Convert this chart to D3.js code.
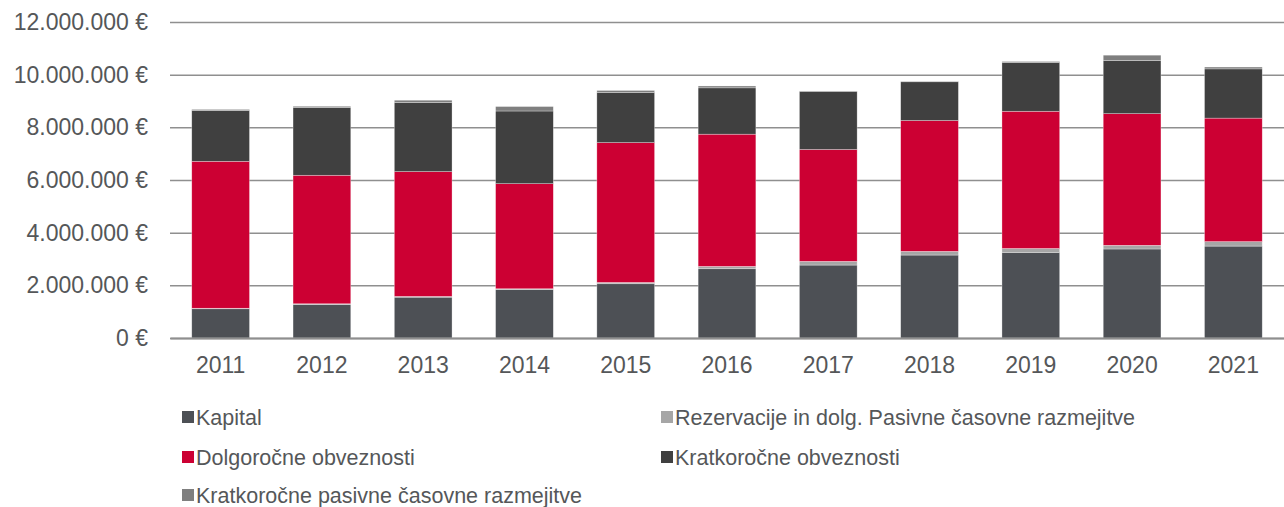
<!DOCTYPE html>
<html>
<head>
<meta charset="utf-8">
<script src="https://cdn.jsdelivr.net/npm/d3@7"></script>
<style>
  body { margin: 0; background: #fff; }
  text { font-family: "Liberation Sans", Arial, sans-serif; fill: #555759; }
</style>
</head>
<body>
<div id="chart"></div>
<script>
// Chart data (values in EUR)
var years = ['2011', '2012', '2013', '2014', '2015', '2016', '2017', '2018', '2019', '2020', '2021'];
var kapital = [1110000, 1270000, 1550000, 1840000, 2060000, 2630000, 2770000, 3150000, 3250000, 3380000, 3490000];
var rezervacije = [20000, 30000, 30000, 30000, 50000, 90000, 140000, 140000, 150000, 140000, 170000];
var dolgorocne = [5580000, 4880000, 4740000, 3990000, 5310000, 5020000, 4250000, 4970000, 5210000, 5000000, 4690000];
var kratkorocne = [1930000, 2570000, 2620000, 2760000, 1900000, 1760000, 2200000, 1470000, 1850000, 2020000, 1870000];
var kratPasivne = [40000, 50000, 90000, 170000, 80000, 70000, 20000, 20000, 40000, 200000, 70000];
var yTicks = [0, 2000000, 4000000, 6000000, 8000000, 10000000, 12000000];

var seriesNames = ['Kapital', 'Rezervacije in dolg. Pasivne časovne razmejitve', 'Dolgoročne obveznosti',
  'Kratkoročne obveznosti', 'Kratkoročne pasivne časovne razmejitve'];
var seriesKeys = ['kap', 'rez', 'dolg', 'krat', 'kpcr'];
var colors = ['#4d5055', '#a6a6a6', '#cc0033', '#404040', '#7f7f7f'];

var svgWidth = 1284;
var svgHeight = 507;
var margin = { top: 22, right: 0, bottom: 169, left: 170 };
var chartWidth = svgWidth - margin.left - margin.right;
var chartHeight = 338 - margin.top;

// build rows for the stack
var rows = years.map((y, i) => ({
  year: y, kap: kapital[i], rez: rezervacije[i], dolg: dolgorocne[i], krat: kratkorocne[i], kpcr: kratPasivne[i]
}));
var stacked = d3.stack().keys(seriesKeys)(rows);

var svg = d3.select('#chart').append('svg')
  .attr('width', svgWidth)
  .attr('height', svgHeight);

var chartGroup = svg.append('g')
  .attr('transform', `translate(${margin.left}, ${margin.top})`);

var xScale = d3.scaleBand()
  .domain(years)
  .range([0, chartWidth])
  .paddingInner(0.43)
  .paddingOuter(0.215);

var yScale = d3.scaleLinear()
  .domain([0, 12000000])
  .range([chartHeight, 0]);

var fmt = d3.formatLocale({ decimal: ',', thousands: '.', grouping: [3], currency: ['', ' €'] }).format(',.0f');

// gridlines + y labels
var yAxis = chartGroup.append('g')
  .call(d3.axisLeft(yScale).tickValues(yTicks).tickSize(-chartWidth).tickPadding(22)
    .tickFormat(d => fmt(d) + ' €'));
yAxis.select('.domain').remove();
yAxis.selectAll('line').attr('stroke', '#8f8f8f').attr('stroke-width', 1.5);
yAxis.selectAll('text').style('font-size', '23px').attr('fill', '#555759');

// bars
chartGroup.append('g').selectAll('g')
  .data(stacked)
  .enter()
  .append('g')
  .attr('fill', (d, i) => colors[i])
  .selectAll('rect')
  .data(d => d)
  .enter()
  .append('rect')
  .attr('x', d => xScale(d.data.year))
  .attr('y', d => yScale(d[1]))
  .attr('width', xScale.bandwidth())
  .attr('height', d => yScale(d[0]) - yScale(d[1]))
  .attr('stroke', '#ffffff')
  .attr('stroke-opacity', 0.5)
  .attr('stroke-width', 0.6);

// baseline + x labels
var xAxis = chartGroup.append('g')
  .attr('transform', `translate(0, ${chartHeight})`)
  .call(d3.axisBottom(xScale).tickSize(0).tickPadding(19));
xAxis.select('.domain').attr('stroke', '#8f8f8f').attr('stroke-width', 2);
xAxis.selectAll('text').style('font-size', '23px').attr('fill', '#555759');

// legend (two columns)
var legendPos = [[182, 417], [661, 417], [182, 457], [661, 457], [182, 495]];
var legend = svg.append('g').selectAll('g')
  .data(seriesNames)
  .enter()
  .append('g')
  .attr('transform', (d, i) => `translate(${legendPos[i][0]}, ${legendPos[i][1]})`);

legend.append('rect')
  .attr('x', 0)
  .attr('y', -6)
  .attr('width', 12)
  .attr('height', 12)
  .attr('fill', (d, i) => colors[i]);

legend.append('text')
  .attr('x', 14)
  .attr('dy', '0.35em')
  .style('font-size', '21.5px')
  .text(d => d);
</script>
</body>
</html>
